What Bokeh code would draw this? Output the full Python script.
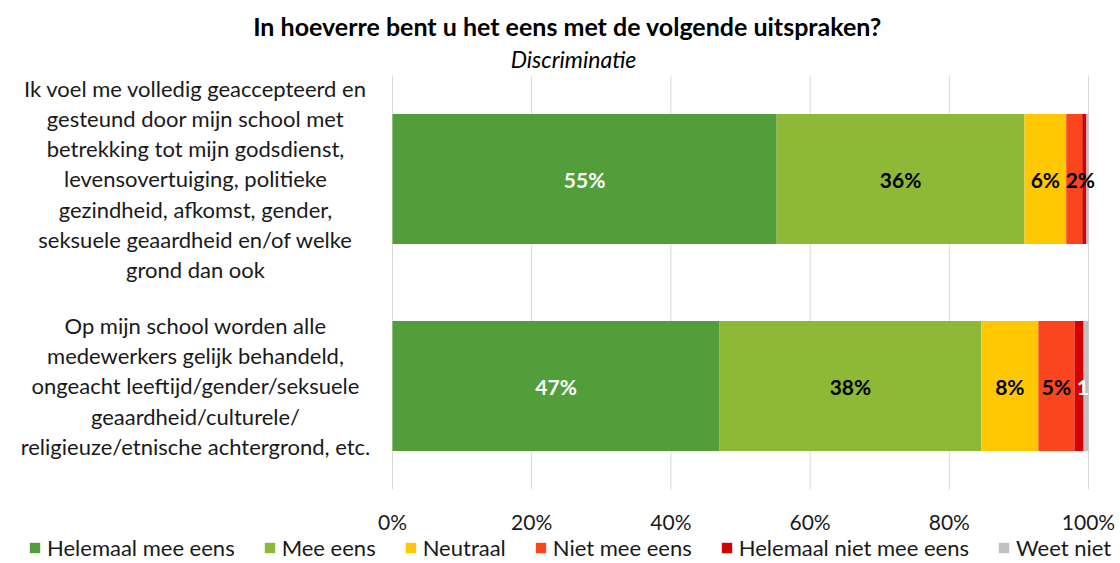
from bokeh.plotting import figure
from bokeh.models import ColumnDataSource, Range1d, Legend, LegendItem
from bokeh.core.properties import value
from bokeh.embed import file_html
from bokeh.resources import INLINE

# ---- data ----
categories = [
    "Ik voel me volledig geaccepteerd en\ngesteund door mijn school met\nbetrekking tot mijn godsdienst,\nlevensovertuiging, politieke\ngezindheid, afkomst, gender,\nseksuele geaardheid en/of welke\ngrond dan ook",
    "Op mijn school worden alle\nmedewerkers gelijk behandeld,\nongeacht leeftijd/gender/seksuele\ngeaardheid/culturele/\nreligieuze/etnische achtergrond, etc.",
]
series_names = ["Helemaal mee eens", "Mee eens", "Neutraal", "Niet mee eens",
                "Helemaal niet mee eens", "Weet niet"]
helemaal_mee_eens = [55.2, 47.0]
mee_eens = [35.6, 37.6]
neutraal = [6.0, 8.2]
niet_mee_eens = [2.3, 5.2]
helemaal_niet_mee_eens = [0.6, 1.3]
weet_niet = [0.3, 0.7]
tick_values = [0, 20, 40, 60, 80, 100]
tick_labels = ["0%", "20%", "40%", "60%", "80%", "100%"]
title_text = "In hoeverre bent u het eens met de volgende uitspraken?"
subtitle_text = "Discriminatie"

colors = ["#529E3A", "#8DB936", "#FFC800", "#FA451E", "#D50000", "#C0C0C0"]
label_colors = ["white", "black", "black", "black", "white", "black"]
FONT = "Lato"

W, H = 1120, 563
# layout geometry (pixels from the top-left of the canvas)
PLOT_L, PLOT_R = 392, 1088
BAND_T, BAND_B = 75, 489
n_cat = len(categories)
unit_px = (BAND_B - BAND_T) / n_cat          # pixels per category slot
px_per_pct = (PLOT_R - PLOT_L) / 100.0

def xd(px):  # canvas x pixel -> data x
    return (px - PLOT_L) / px_per_pct

def yd(py):  # canvas y pixel -> data y (category slots, bottom slot centred at 0)
    return (BAND_B - unit_px / 2 - py) / unit_px

series_values = [helemaal_mee_eens, mee_eens, neutraal, niet_mee_eens,
                 helemaal_niet_mee_eens, weet_niet]
keys = ["s%d" % i for i in range(len(series_names))]
cat_pos = [float(n_cat - 1 - i) for i in range(n_cat)]   # first category on top
data = {"y": cat_pos}
for k, v in zip(keys, series_values):
    data[k] = v
source = ColumnDataSource(data)

p = figure(width=W, height=H, output_backend="svg", toolbar_location=None,
           x_range=Range1d(xd(0), xd(W)), y_range=Range1d(yd(H), yd(0)),
           x_axis_type=None, y_axis_type=None,
           min_border=0, min_border_left=0, min_border_right=0,
           min_border_top=0, min_border_bottom=0)
p.outline_line_color = None
p.xgrid.visible = False
p.ygrid.visible = False

# vertical gridlines at tick values, spanning the category band
band_lo, band_hi = -0.5, n_cat - 0.5
p.segment(x0=tick_values, x1=tick_values, y0=[band_lo] * len(tick_values),
          y1=[band_hi] * len(tick_values), line_color="#D9D9D9", line_width=1)

renderers = p.hbar_stack(keys, y="y", height=0.628, source=source,
                         color=colors, line_color=None)

# bar value labels (centred on segment, nudged right when they would collide)
LABEL_CHAR_PX = 14.0
LABEL_GAP_PX = 7.0
lx, ly, lt, lc = [], [], [], []
for ci in range(n_cat):
    left = 0.0
    prev_right = None
    for si, vals in enumerate(series_values):
        v = vals[ci]
        if v >= 1.0 and si < 5:
            txt = "%d%%" % round(v)
            half_w = len(txt) * LABEL_CHAR_PX / 2.0 / px_per_pct
            cx = left + v / 2.0
            if prev_right is not None and cx - half_w < prev_right + LABEL_GAP_PX / px_per_pct:
                cx = prev_right + LABEL_GAP_PX / px_per_pct + half_w
            prev_right = cx + half_w
            lx.append(cx)
            ly.append(cat_pos[ci])
            lt.append(txt)
            lc.append(label_colors[si])
        left += v
p.text(x=lx, y=ly, text=lt, text_color=lc, text_align="center", text_baseline="middle",
       text_font=value(FONT), text_font_size="21px", text_font_style="bold")

# tick labels
p.text(x=tick_values, y=[yd(521)] * len(tick_values), text=tick_labels,
       text_align="center", text_baseline="middle", text_color="#1a1a1a",
       text_font=value(FONT), text_font_size="21px")

# category labels (multi-line, centred)
p.text(x=[xd(195)] * n_cat, y=cat_pos, text=categories,
       text_align="center", text_baseline="middle", text_color="#1a1a1a",
       text_font=value(FONT), text_font_size="22px", text_line_height=1.114)

# title and subtitle
p.text(x=[xd(567)], y=[yd(25)], text=[title_text], text_align="center", text_baseline="middle",
       text_color="#000000", text_font=value(FONT), text_font_size="25px", text_font_style="bold")
p.text(x=[xd(573)], y=[yd(58)], text=[subtitle_text], text_align="center", text_baseline="middle",
       text_color="#000000", text_font=value(FONT), text_font_size="23px", text_font_style="italic")

# legend
items = [LegendItem(label=n, renderers=[r]) for n, r in zip(series_names, renderers)]
legend = Legend(items=items, orientation="horizontal", location=(28, 2),
                glyph_width=13, glyph_height=13, label_standoff=6, spacing=28,
                padding=0, margin=0, border_line_color=None, background_fill_alpha=0,
                label_text_font=FONT, label_text_font_size="22px", label_text_color="#1a1a1a")
p.add_layout(legend, "center")

open("out.html", "w").write(file_html(p, INLINE))
